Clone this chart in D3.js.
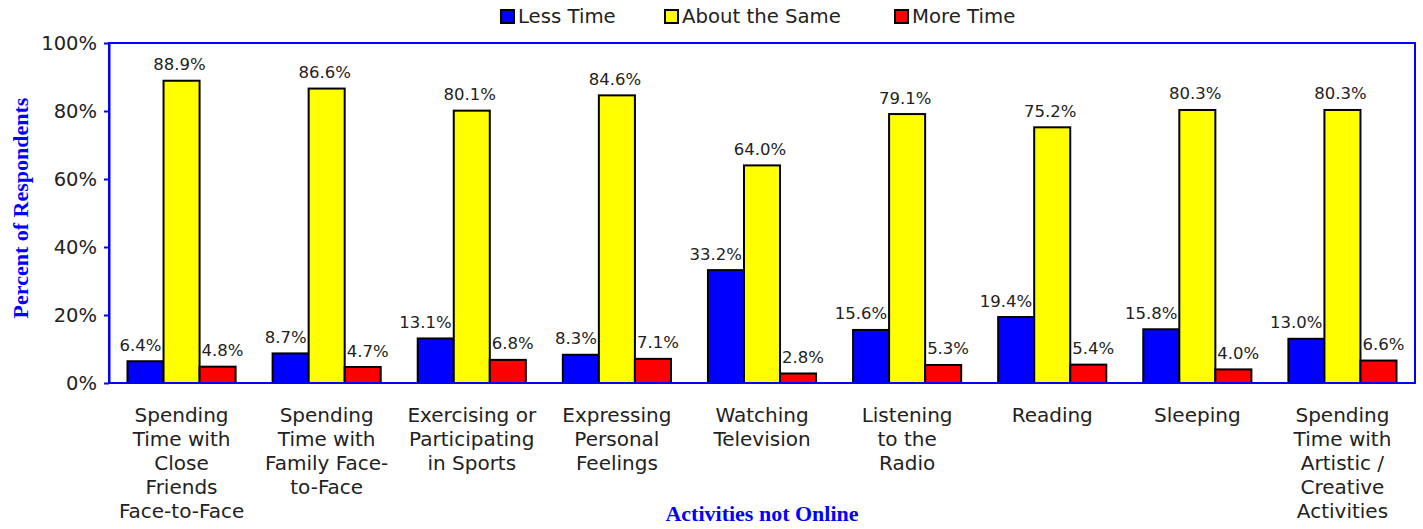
<!DOCTYPE html>
<html><head><meta charset="utf-8">
<script src="https://cdn.jsdelivr.net/npm/d3@7"></script>
<style>
html,body{margin:0;padding:0;background:#fff;}
svg{display:block;}
</style></head>
<body>
<svg id="c" width="1423" height="529"></svg>
<script>
const categories = [
  ["Spending","Time with","Close","Friends","Face-to-Face"],
  ["Spending","Time with","Family Face-","to-Face"],
  ["Exercising or","Participating","in Sports"],
  ["Expressing","Personal","Feelings"],
  ["Watching","Television"],
  ["Listening","to the","Radio"],
  ["Reading"],
  ["Sleeping"],
  ["Spending","Time with","Artistic /","Creative","Activities"]
];
const seriesNames = ["Less Time","About the Same","More Time"];
const seriesColors = ["#0000FF","#FFFF00","#FF0000"];
const lessTime  = [6.4, 8.7, 13.1, 8.3, 33.2, 15.6, 19.4, 15.8, 13.0];
const aboutSame = [88.9, 86.6, 80.1, 84.6, 64.0, 79.1, 75.2, 80.3, 80.3];
const moreTime  = [4.8, 4.7, 6.8, 7.1, 2.8, 5.3, 5.4, 4.0, 6.6];
const yTicks = [0, 20, 40, 60, 80, 100];
const yTitle = "Percent of Respondents";
const xTitle = "Activities not Online";

const series = [lessTime, aboutSame, moreTime];
const svg = d3.select("#c");
const L = 109, R = 1415, T = 43, B = 383;
const sans = "'DejaVu Sans', Verdana, sans-serif";
const serif = "'Liberation Serif', 'Times New Roman', serif";
const textCol = "#222";

const x0 = d3.scaleBand().domain(d3.range(categories.length)).range([L, R]).paddingInner(0.255).paddingOuter(0.1275);
const x1 = d3.scaleBand().domain(d3.range(series.length)).range([0, x0.bandwidth()]);
const y = d3.scaleLinear().domain([0, 100]).range([B, T]);

// bars + value labels
const anchors = ["end", "middle", "start"];
series.forEach((vals, s) => {
  const g = svg.append("g");
  g.selectAll("rect").data(vals).enter().append("rect")
    .attr("x", (d, i) => x0(i) + x1(s))
    .attr("y", d => y(d))
    .attr("width", x1.bandwidth())
    .attr("height", d => y(0) - y(d))
    .attr("fill", seriesColors[s])
    .attr("stroke", "#000").attr("stroke-width", 2);
  g.selectAll("text").data(vals).enter().append("text")
    .attr("x", (d, i) => {
      const bx = x0(i) + x1(s), bw = x1.bandwidth();
      if (s === 0) return bx + bw - 2;
      if (s === 2) return bx + 2;
      return bx + bw / 2 - 2;
    })
    .attr("y", d => y(d) - 10.5)
    .attr("text-anchor", anchors[s])
    .attr("font-family", sans).attr("font-size", 16.5).attr("fill", textCol)
    .text(d => d.toFixed(1) + "%");
});

// plot border
svg.append("rect").attr("x", L).attr("y", T).attr("width", R - L).attr("height", B - T)
  .attr("fill", "none").attr("stroke", "#0000FF").attr("stroke-width", 2);

// y axis
const yAxis = d3.axisLeft(y).tickValues(yTicks).tickFormat(d => d + "%").tickSizeOuter(0).tickSizeInner(5).tickPadding(7);
const ga = svg.append("g").attr("transform", `translate(${L},0)`).call(yAxis);
ga.select(".domain").attr("stroke", "#0000FF").attr("stroke-width", 2);
ga.selectAll(".tick line").attr("stroke", "#0000FF").attr("stroke-width", 2);
ga.selectAll(".tick text").attr("font-family", sans).attr("font-size", 19.5).attr("fill", textCol);

// x category labels
const xAxis = d3.axisBottom(x0).tickSize(0).tickFormat("");
const gx = svg.append("g").attr("transform", `translate(0,${B})`).call(xAxis);
gx.select(".domain").remove();
gx.selectAll(".tick").each(function(i) {
  const t = d3.select(this).append("text")
    .attr("text-anchor", "middle").attr("font-family", sans).attr("font-size", 20).attr("fill", textCol);
  categories[i].forEach((line, k) => {
    t.append("tspan").attr("x", 0).attr("y", 38.5 + k * 24).text(line);
  });
});

// titles
svg.append("text").attr("x", (L + R) / 2).attr("y", 521).attr("text-anchor", "middle")
  .attr("font-family", serif).attr("font-weight", "bold").attr("font-size", 22).attr("fill", "#0000FF").text(xTitle);
svg.append("text").attr("transform", `translate(28,${(T + B) / 2 - 5}) rotate(-90)`).attr("text-anchor", "middle")
  .attr("font-family", serif).attr("font-weight", "bold").attr("font-size", 22).attr("fill", "#0000FF").text(yTitle);

// legend
const legX = [501, 665, 895];
const lg = svg.append("g");
seriesNames.forEach((n, s) => {
  lg.append("rect").attr("x", legX[s]).attr("y", 10).attr("width", 13).attr("height", 13)
    .attr("fill", seriesColors[s]).attr("stroke", "#000").attr("stroke-width", 2);
  lg.append("text").attr("x", legX[s] + 17).attr("y", 22.5).attr("font-family", sans).attr("font-size", 19.7)
    .attr("fill", textCol).text(n);
});
</script>
</body></html>
